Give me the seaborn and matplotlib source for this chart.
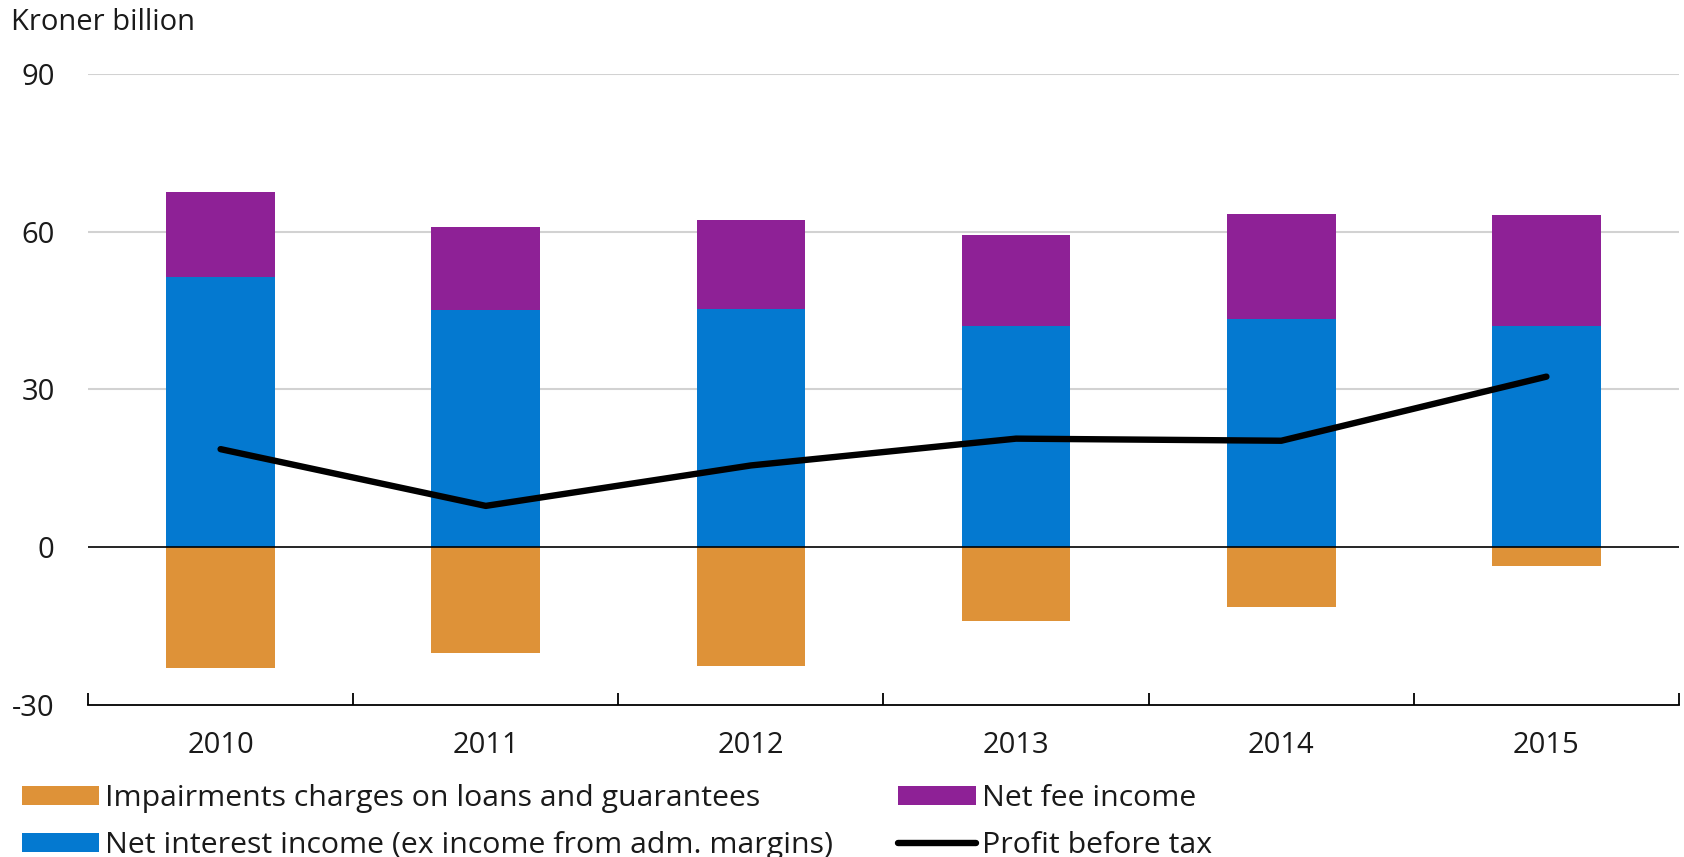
import numpy as np
import pandas as pd
import matplotlib
matplotlib.use("Agg")
import matplotlib.pyplot as plt
import seaborn as sns
from matplotlib.patches import Patch
from matplotlib.lines import Line2D

# Bank earnings components, kroner billion
years = ["2010", "2011", "2012", "2013", "2014", "2015"]
net_interest = [51.4, 45.1, 45.3, 42.0, 43.3, 42.0]
net_fee = [16.2, 15.7, 16.9, 17.4, 20.0, 21.1]
impairments = [-23.1, -20.2, -22.7, -14.1, -11.4, -3.7]
profit_before_tax = [18.6, 7.8, 15.5, 20.6, 20.2, 32.4]

labels = [
    "Impairments charges on loans and guarantees",
    "Net interest income (ex income from adm. margins)",
    "Net fee income",
    "Profit before tax",
]

C_IMP = "#DE9238"
C_INT = "#0479D0"
C_FEE = "#8E2196"
C_TXT = "#1a1a1a"

sns.set_theme(style="white")
plt.rcParams["font.family"] = ["Open Sans", "DejaVu Sans"]
plt.rcParams["text.color"] = C_TXT

df = pd.DataFrame({
    "year": years,
    "interest": net_interest,
    "fee": net_fee,
    "imp": impairments,
    "profit": profit_before_tax,
})

fig = plt.figure(figsize=(16.84, 8.57), dpi=100)
ax = fig.add_axes([88 / 1684, 1 - 704.5 / 857, (1679 - 88) / 1684, (704.5 - 74) / 857])

FS = 21
LFS = 21.8
W = 0.41

sns.barplot(data=df, x="year", y="interest", color=C_INT, width=W,
            saturation=1, ax=ax, linewidth=0)
sns.barplot(data=df, x="year", y="fee", color=C_FEE, width=W,
            saturation=1, ax=ax, linewidth=0, bottom=df["interest"].values)
sns.barplot(data=df, x="year", y="imp", color=C_IMP, width=W,
            saturation=1, ax=ax, linewidth=0)

pos = np.arange(len(years))
sns.lineplot(x=pos, y=df["profit"].values, color="black", lw=4.6, ax=ax,
             solid_capstyle="round", solid_joinstyle="round", zorder=5)

ax.set_xlim(-0.5, len(years) - 0.5)
ax.set_ylim(-30, 90)
ax.set_yticks([-30, 0, 30, 60, 90])
ax.set_yticklabels(["-30", "0", "30", "60", "90"])

for v in [30, 60, 90]:
    ax.axhline(v, color="#d2d2d2", lw=1.5, zorder=0)
ax.axhline(0, color="black", lw=1.2, zorder=4)

for s in ["top", "right", "left"]:
    ax.spines[s].set_visible(False)
ax.spines["bottom"].set_color("black")
ax.spines["bottom"].set_linewidth(1.3)

ax.set_xticks(pos)
ax.set_xticklabels(years)
ax.set_xticks(np.arange(-0.5, len(years), 1.0), minor=True)
ax.tick_params(axis="x", which="major", bottom=True, length=0, pad=19,
               labelsize=FS, colors=C_TXT)
ax.tick_params(axis="x", which="minor", bottom=True, length=9, width=1.3,
               direction="in", color="black")
ax.tick_params(axis="y", length=0, pad=24, labelsize=FS, colors=C_TXT)
ax.set_xlabel("")
ax.set_ylabel("")

fig.text(11 / 1684, 1 - 22 / 857, "Kroner billion", fontsize=FS, va="center", ha="left", color=C_TXT)

handles = [
    Patch(facecolor=C_IMP, edgecolor="none"),
    Patch(facecolor=C_INT, edgecolor="none"),
    Patch(facecolor=C_FEE, edgecolor="none"),
    Line2D([0], [0], color="black", lw=4.6, solid_capstyle="round"),
]
fig.legend(handles, labels, loc="upper left", bbox_to_anchor=(22 / 1684, 1 - 784 / 857),
           ncol=2, frameon=False, fontsize=LFS, borderaxespad=0, borderpad=0,
           handlelength=2.55, handleheight=0.62, handletextpad=0.2,
           columnspacing=2.15, labelspacing=0.6)

fig.savefig("out.png", dpi=100)
